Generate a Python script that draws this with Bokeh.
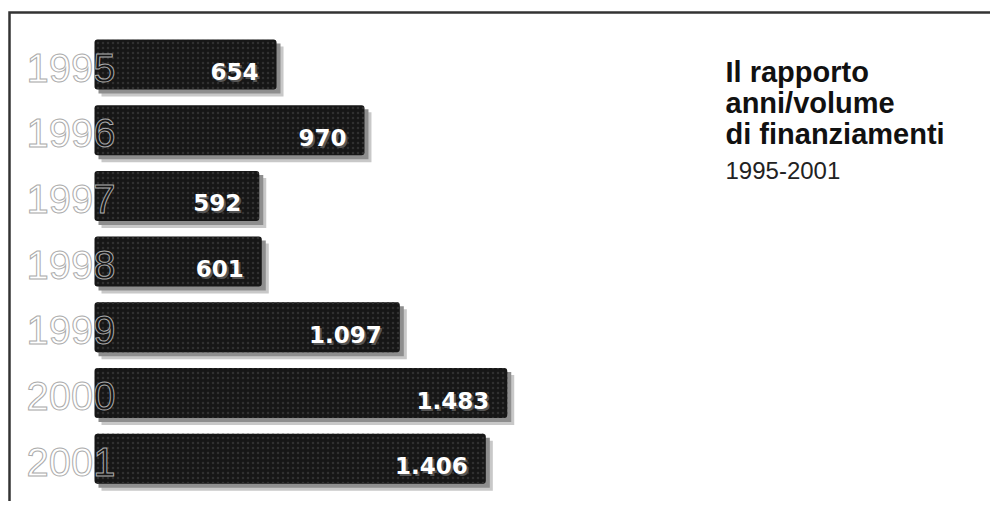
from bokeh.plotting import figure
from bokeh.models import Range1d, ColumnDataSource
from bokeh.transform import dodge
from bokeh.core.properties import value
from bokeh.embed import file_html
from bokeh.resources import INLINE

# ---- data ----
years = ["1995", "1996", "1997", "1998", "1999", "2000", "2001"]
volumes = [654, 970, 592, 601, 1097, 1483, 1406]
value_labels = ["654", "970", "592", "601", "1.097", "1.483", "1.406"]
title_lines = ["Il rapporto", "anni/volume", "di finanziamenti"]
subtitle = "1995-2001"

# ---- layout helpers (canvas pixels -> data) ----
W, H = 990, 501
PX = 3.593   # data units per horizontal pixel
X0 = 94      # canvas px of value zero
ROW = 65.7   # px per row
Y0 = 64      # canvas px of first row centre


def xd(px):
    return (px - X0) * PX


def yd(py):
    return (py - Y0) / ROW


BAR = "#161616"
rows = list(range(len(years)))
src = ColumnDataSource(dict(y=rows, v=volumes, year=years, lab=value_labels,
                            last=[yr[-1] for yr in years],
                            zero=[0] * len(rows)))

p = figure(width=W, height=H, x_range=Range1d(xd(0), xd(W)),
           y_range=Range1d(yd(H), yd(0)), output_backend="svg",
           toolbar_location=None, min_border=0,
           x_axis_location=None, y_axis_location=None)
p.grid.visible = False
p.outline_line_color = None
p.background_fill_color = "white"
p.border_fill_color = "white"

bar_h = 50 / ROW
year_kw = dict(x=0, y="y", source=src, text_align="right",
               text_baseline="middle", x_offset=21, y_offset=3,
               text_font=value("Liberation Sans"), text_font_size="40px",
               text_outline_color="#ababab")

# year labels, white with grey outline (under the bars)
p.text(text="year", text_color="white", **year_kw)

# shadows
p.hbar(y=dodge("y", 7 / ROW, range=p.y_range),
       left=dodge("zero", 7 * PX, range=p.x_range),
       right=dodge("v", 7 * PX, range=p.x_range),
       height=bar_h, fill_color="#c8c8c8", line_color=None, source=src)
p.hbar(y=dodge("y", 4 / ROW, range=p.y_range),
       left=dodge("zero", 4 * PX, range=p.x_range),
       right=dodge("v", 4 * PX, range=p.x_range),
       height=bar_h, fill_color="#8e8e8e", line_color=None, source=src)

# bars
p.hbar(y="y", left=0, right="v", height=bar_h, fill_color=BAR,
       line_color=None, border_radius=3,
       hatch_pattern="dot", hatch_color="#303030", hatch_scale=5,
       hatch_weight=1, source=src)

# last digit of each year, outlined on the bar
p.text(text="last", text_color=BAR, **year_kw)

# value labels with soft shadow
p.text(x="v", y="y", text="lab", source=src, text_align="right",
       text_baseline="middle", x_offset=-16, y_offset=9,
       text_font=value("DejaVu Sans"), text_font_size="23px",
       text_font_style="bold", text_color="#555555")
p.text(x="v", y="y", text="lab", source=src, text_align="right",
       text_baseline="middle", x_offset=-18, y_offset=7,
       text_font=value("DejaVu Sans"), text_font_size="23px",
       text_font_style="bold", text_color="white")

# title block
tx = [xd(725)] * len(title_lines)
ty = [yd(71 + 31 * i) for i in range(len(title_lines))]
p.text(x=tx, y=ty, text=title_lines, text_align="left",
       text_baseline="alphabetic", text_font=value("Liberation Sans"),
       text_font_size="29px", text_font_style="bold", text_color="#111111")
p.text(x=[xd(725)], y=[yd(170)], text=[subtitle], text_align="left",
       text_baseline="alphabetic", text_font=value("Liberation Sans"),
       text_font_size="24px", text_color="#222222")

# frame lines (top and left)
p.line(x=[xd(W), xd(9), xd(9)], y=[yd(12), yd(12), yd(H)],
       line_color="#333333", line_width=2.5, line_join="miter")

open("out.html", "w").write(file_html(p, INLINE))
